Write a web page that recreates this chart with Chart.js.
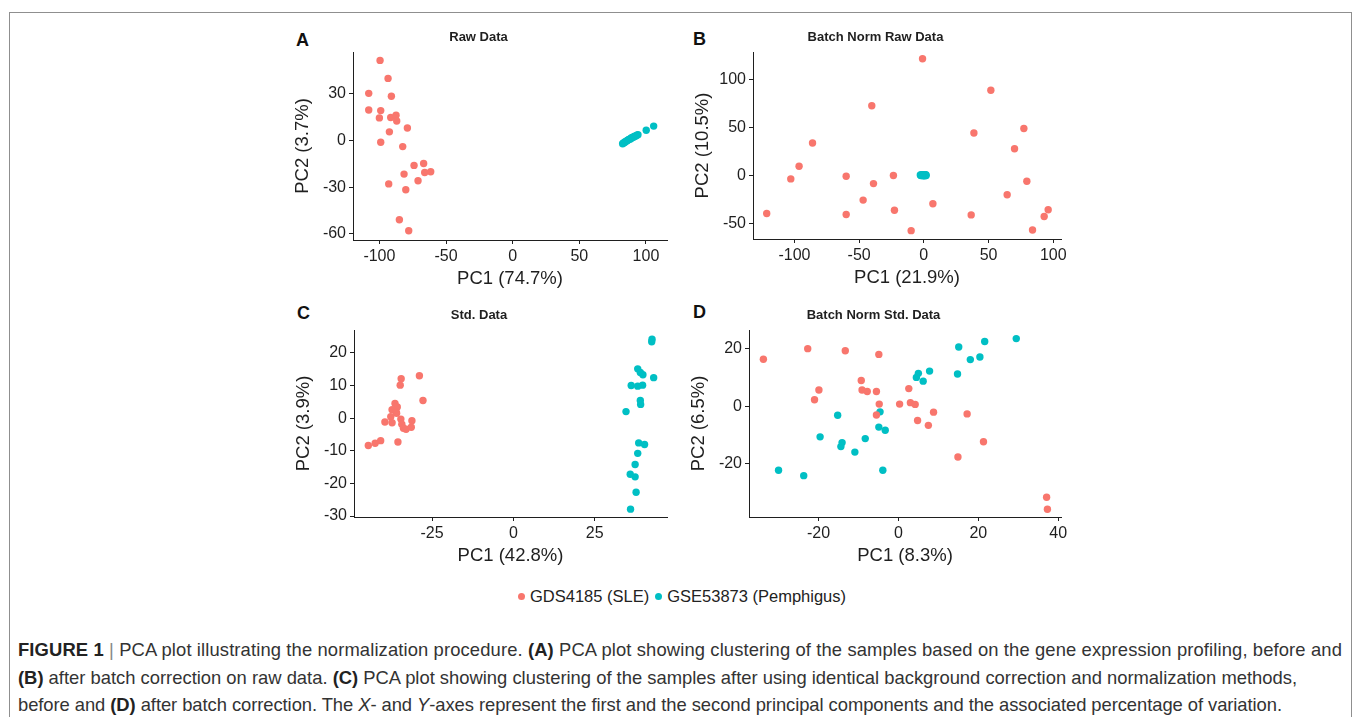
<!DOCTYPE html>
<html>
<head>
<meta charset="utf-8">
<script src="https://cdn.jsdelivr.net/npm/chart.js@4.4.1/dist/chart.umd.min.js"></script>
<style>
  html, body { margin: 0; padding: 0; background: #fff; }
  body { width: 1358px; height: 717px; position: relative; overflow: hidden; font-family: "Liberation Sans", Arial, sans-serif; }
  .frame { position: absolute; left: 9px; top: 12px; width: 1343px; height: 760px; border: 1.5px solid #8f8f8f; box-sizing: border-box; }
  .panel { position: absolute; }
  .tag { position: absolute; font-weight: bold; font-size: 18px; color: #111; line-height: 1; }
  .legend { position: absolute; left: 0; width: 1358px; top: 587px; display: flex; justify-content: center; align-items: center; font-size: 16.5px; color: #222; }
  .legend .dot { display: inline-block; width: 7px; height: 7px; border-radius: 50%; margin: 0 5px 0 6px; }
  .caption { position: absolute; left: 18px; top: 636px; font-size: 18.4px; line-height: 27.5px; color: #333; white-space: nowrap; }
  .caption .line { display: block; }
  .caption b { color: #222; }
  .caption .bar { color: #888; }
</style>
</head>
<body>
<div class="frame"></div>

<div class="tag" style="left:296px;top:31px">A</div>
<div class="tag" style="left:693px;top:30px">B</div>
<div class="tag" style="left:297px;top:304px">C</div>
<div class="tag" style="left:693px;top:303px">D</div>

<div class="panel" style="left:290px;top:25px;width:389px;height:265px"><canvas id="chartA"></canvas></div>
<div class="panel" style="left:690px;top:25px;width:383px;height:264px"><canvas id="chartB"></canvas></div>
<div class="panel" style="left:291px;top:303px;width:388px;height:264px"><canvas id="chartC"></canvas></div>
<div class="panel" style="left:686px;top:303px;width:387px;height:264px"><canvas id="chartD"></canvas></div>

<div class="legend" id="legend"></div>

<div class="caption">
<span class="line" data-w="1324"><b>FIGURE 1</b> <span class="bar">|</span> PCA plot illustrating the normalization procedure. <b>(A)</b> PCA plot showing clustering of the samples based on the gene expression profiling, before and</span>
<span class="line" data-w="1279"><b>(B)</b> after batch correction on raw data. <b>(C)</b> PCA plot showing clustering of the samples after using identical background correction and normalization methods,</span>
<span class="line" data-w="1264">before and <b>(D)</b> after batch correction. The <i>X</i>- and <i>Y</i>-axes represent the first and the second principal components and the associated percentage of variation.</span>
</div>

<script>
const seriesNames = ["GDS4185 (SLE)", "GSE53873 (Pemphigus)"];
const seriesColors = ["#F8766D", "#00BFC4"];

// A: Raw Data
const rawSle = [
    [-99.5, 51.6], [-93.5, 40], [-108, 30.4], [-91, 28.5], [-108, 19.7], [-99, 19.3],
    [-100, 14.6], [-91.5, 14.8], [-87.5, 16.3], [-87, 12.6], [-92.5, 5.6], [-79, 8.1],
    [-99, -1.1], [-82.5, -3.9], [-74, -16], [-66.8, -14.8], [-66, -20.6], [-61.5, -20.1],
    [-81.5, -21.6], [-71, -25.9], [-93, -27.9], [-80.2, -31.7], [-85, -51], [-78, -58]
];
const rawPem = [
    [82.5, -2.1], [83.1, -1.5], [84, -1.2], [84.4, -0.7], [85.3, -0.5], [85.9, 0],
    [86.6, 0.3], [87.1, 0.7], [88, 1], [88.7, 1.2], [89.2, 1.8], [90.1, 2.1],
    [90.9, 2.3], [91.5, 2.8], [92.4, 3], [93.3, 3.5], [94, 3.7], [100.2, 6.6], [105.8, 9.3]
];

// B: Batch Norm Raw Data
const bnRawSle = [
    [-1, 121.3], [51.8, 88.5], [-40.2, 72.4], [-86, 33.6], [38.7, 44], [77.3, 48.6],
    [70.1, 27.6], [-96.4, 9.4], [-102.8, -3.8], [-60, -1], [-23.5, -0.3], [-38.9, -8.7],
    [79.6, -6.3], [-46.9, -25.9], [7, -29.7], [64.4, -20.3], [-121.4, -39.9], [-60, -40.9],
    [-22.7, -36.4], [36.6, -41.3], [-9.8, -57.7], [84, -57], [93, -43], [96.1, -36]
];
const bnRawPem = [
    [-2.7, 0.3], [-2.3, -0.4], [-1.8, 0.5], [-1.5, -0.2], [-1.1, 0.6], [-0.8, -0.5],
    [-0.5, 0.1], [-0.2, 0.4], [0.1, -0.3], [0.4, 0.2], [0.7, -0.6], [1, 0.3],
    [1.3, -0.1], [1.6, 0.5], [1.8, -0.4], [-0.6, -0.1], [0.2, 0.6], [-1.3, 0.1]
];

// C: Std. Data
const stdSle = [
    [-28.9, 13], [-34.5, 12.1], [-34.8, 10.1], [-27.8, 5.4], [-36.4, 4.5], [-35.7, 3.4],
    [-37.3, 2.6], [-36.1, 2], [-35.9, 1.5], [-37.7, 0.4], [-34.6, -0.3], [-39.5, -1.2],
    [-37.3, -1.4], [-31.2, -0.8], [-34.3, -1.9], [-33.8, -3.1], [-33, -3.4], [-31.4, -2.8],
    [-35.5, -7.3], [-40.8, -6.9], [-42.5, -7.7], [-44.6, -8.4]
];
const stdPem = [
    [42.6, 24.2], [42.5, 23.4], [38.2, 15.1], [39, 14], [39.8, 13.3], [43.1, 12.4],
    [36.2, 10], [38.2, 9.8], [39.7, 10.1], [39, 5.4], [39.1, 4.2], [34.6, 2],
    [38.5, -7.6], [40.3, -8.1], [38.2, -10.8], [37.4, -14.2], [35.9, -17.2], [37.4, -18],
    [37.7, -22.7], [36, -27.9]
];

// D: Batch Norm Std. Data
const bnStdSle = [
    [-33.8, 16.4], [-22.7, 20.1], [-13.3, 19.4], [-4.9, 18.1], [-9.3, 9], [-19.9, 5.7],
    [-21, 2.3], [-9.1, 5.7], [-7.8, 5.2], [-5.5, 5.2], [-4.8, 0.8], [-5.5, -3],
    [0.3, 0.8], [2.6, 6.2], [3, 1.3], [4.2, 0.7], [4.8, -4.9], [8.8, -2],
    [7.5, -6.6], [17.2, -2.6], [21.3, -12.3], [14.9, -17.6], [37.1, -31.6], [37.3, -35.8]
];
const bnStdPem = [
    [29.5, 23.6], [21.6, 22.6], [15.1, 20.7], [20.4, 17.2], [18, 16.3], [7.8, 12.3],
    [5, 11.5], [4.5, 10.1], [6.2, 8.8], [14.8, 11.3], [-15.2, -3.1], [-4.6, -1.9],
    [-4.9, -7.2], [-3.3, -8.3], [-19.6, -10.6], [-8.3, -11.2], [-14.1, -12.6], [-14.4, -14],
    [-10.9, -15.9], [-3.9, -22.2], [-30, -22.2], [-23.7, -24.1]
];

const ticksAx = [-100, -50, 0, 50, 100];
const ticksAy = [-60, -30, 0, 30];
const ticksBx = [-100, -50, 0, 50, 100];
const ticksBy = [-50, 0, 50, 100];
const ticksCx = [-25, 0, 25];
const ticksCy = [-30, -20, -10, 0, 10, 20];
const ticksDx = [-20, 0, 20, 40];
const ticksDy = [-20, 0, 20];

const fontFamily = '"Liberation Sans", Arial, sans-serif';
const inkColor = "#1f1f1f";
Chart.defaults.font.family = fontFamily;

function toPoints(pairs) {
    return pairs.map(([x, y]) => ({ x, y }));
}

function buildAxis(range, ticks, label, isX) {
    return {
        type: "linear",
        position: isX ? "bottom" : "left",
        min: range[0],
        max: range[1],
        afterBuildTicks(scale) {
            scale.ticks = ticks.map((value) => ({ value }));
        },
        afterFit(scale) {
            if (isX) scale.height = 50;
            else scale.width = 63;
        },
        grid: {
            drawOnChartArea: false,
            drawTicks: true,
            tickLength: 4,
            color: inkColor,
            lineWidth: 1
        },
        border: { display: true, color: inkColor, width: 1 },
        ticks: {
            color: inkColor,
            padding: 3,
            maxRotation: 0,
            autoSkip: false,
            font: { size: 16 }
        },
        title: {
            display: true,
            text: label,
            color: inkColor,
            font: { size: 18.5 },
            padding: isX ? { top: 0, bottom: 0 } : { top: 2, bottom: 0 }
        }
    };
}

function createPanel(id, title, sle, pem, xRange, yRange, xTicks, yTicks, xLabel, yLabel) {
    const ctx = document.getElementById(id).getContext("2d");
    return new Chart(ctx, {
        type: "scatter",
        data: {
            datasets: [
                { label: seriesNames[0], data: toPoints(sle), backgroundColor: seriesColors[0], borderWidth: 0, pointRadius: 3.7 },
                { label: seriesNames[1], data: toPoints(pem), backgroundColor: seriesColors[1], borderWidth: 0, pointRadius: 3.7 }
            ]
        },
        options: {
            responsive: true,
            maintainAspectRatio: false,
            animation: false,
            devicePixelRatio: 1,
            layout: { padding: { left: 0, right: 12, top: 0, bottom: 0 } },
            plugins: {
                legend: { display: false },
                tooltip: { enabled: false },
                title: {
                    display: true,
                    text: title,
                    color: inkColor,
                    font: { size: 13, weight: "bold" },
                    padding: { top: 5, bottom: 6.4 }
                }
            },
            scales: {
                x: buildAxis(xRange, xTicks, xLabel, true),
                y: buildAxis(yRange, yTicks, yLabel, false)
            }
        }
    });
}

createPanel("chartA", "Raw Data", rawSle, rawPem, [-119.8, 115.8], [-64, 57], ticksAx, ticksAy, "PC1 (74.7%)", "PC2 (3.7%)");
createPanel("chartB", "Batch Norm Raw Data", bnRawSle, bnRawPem, [-132, 106], [-66.4, 128.3], ticksBx, ticksBy, "PC1 (21.9%)", "PC2 (10.5%)");
createPanel("chartC", "Std. Data", stdSle, stdPem, [-49, 47.2], [-30.3, 27], ticksCx, ticksCy, "PC1 (42.8%)", "PC2 (3.9%)");
createPanel("chartD", "Batch Norm Std. Data", bnStdSle, bnStdPem, [-37.4, 40.7], [-38.5, 26.6], ticksDx, ticksDy, "PC1 (8.3%)", "PC2 (6.5%)");

const legendEl = document.getElementById("legend");
seriesNames.forEach((name, i) => {
    const dot = document.createElement("span");
    dot.className = "dot";
    dot.style.background = seriesColors[i];
    const text = document.createElement("span");
    text.textContent = name;
    legendEl.appendChild(dot);
    legendEl.appendChild(text);
});

// stretch each caption line to the width it has in the printed figure
document.querySelectorAll(".caption .line").forEach((line) => {
    line.style.display = "inline-block";
    const natural = line.getBoundingClientRect().width;
    const chars = line.textContent.length;
    const target = Number(line.dataset.w);
    line.style.letterSpacing = ((target - natural) / chars) + "px";
    line.style.display = "block";
});
</script>
</body>
</html>
